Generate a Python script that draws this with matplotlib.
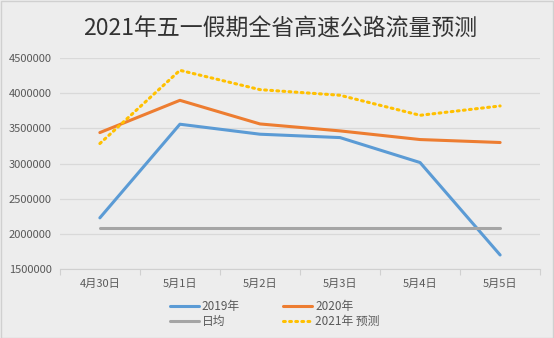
import matplotlib
matplotlib.use("Agg")
import matplotlib.pyplot as plt
from matplotlib.patches import Rectangle

plt.rcParams['font.family'] = ['Noto Sans CJK SC', 'DejaVu Sans']

categories = ["4月30日", "5月1日", "5月2日", "5月3日", "5月4日", "5月5日"]
v2019 = [2228000, 3560000, 3418000, 3370000, 3015000, 1700000]
v2020 = [3441000, 3900000, 3564000, 3465000, 3342000, 3300000]
avg = [2078000] * 6
v2021 = [3285000, 4327000, 4052000, 3972000, 3687000, 3820000]
yticks = [1500000, 2000000, 2500000, 3000000, 3500000, 4000000, 4500000]

bg = "#EDEDED"
fig = plt.figure(figsize=(5.54, 3.38), dpi=100, facecolor=bg)
ax = fig.add_axes([0.108, 0.204, 0.867, 0.624], facecolor=bg)
fig.patches.append(Rectangle((0.001, 0.001), 0.997, 0.997, transform=fig.transFigure,
                             fill=False, edgecolor="#D0D0D0", lw=1))

x = list(range(len(categories)))
l1, = ax.plot(x, v2019, color="#5B9BD5", lw=2.2, label="2019年", solid_capstyle="round")
l2, = ax.plot(x, v2020, color="#ED7D31", lw=2.2, label="2020年", solid_capstyle="round")
l3, = ax.plot(x, avg, color="#A5A5A5", lw=2.2, label="日均", solid_capstyle="round")
l4, = ax.plot(x, v2021, color="#FFC000", lw=2.2, ls=(0, (0.6, 1.4)), dash_capstyle="round",
              label="2021年 预测")

ax.set_xlim(-0.5, 5.5)
ax.set_ylim(1500000, 4500000)
ax.set_yticks(yticks)
ax.set_yticklabels([str(v) for v in yticks], fontsize=8, color="#595959")
ax.yaxis.grid(True, color="#D9D9D9", lw=0.9)
ax.set_axisbelow(True)
ax.tick_params(axis='y', length=0, pad=6)

ax.set_xticks([i - 0.5 for i in range(7)], minor=False)
ax.set_xticklabels([])
ax.set_xticks(x, minor=True)
ax.set_xticklabels(categories, minor=True, fontsize=8, color="#595959")
ax.tick_params(axis='x', which='major', length=4, color="#D0D0D0", direction='out')
ax.tick_params(axis='x', which='minor', length=0, pad=7)

for s in ["top", "right", "left"]:
    ax.spines[s].set_visible(False)
ax.spines["bottom"].set_color("#D0D0D0")

fig.text(0.505, 0.915, "2021年五一假期全省高速公路流量预测", ha="center", va="center",
         fontsize=16.5, color="#333333")

leg = fig.legend(handles=[l1, l3, l2, l4], labels=["2019年", "日均", "2020年", "2021年 预测"],
                 ncol=2, loc="center", bbox_to_anchor=(0.496, 0.07), frameon=False,
                 fontsize=8.5, handlelength=2.45, handletextpad=0.25, columnspacing=3.7,
                 labelspacing=0.15, labelcolor="#595959")

fig.savefig("out.png", dpi=100, facecolor=bg)
